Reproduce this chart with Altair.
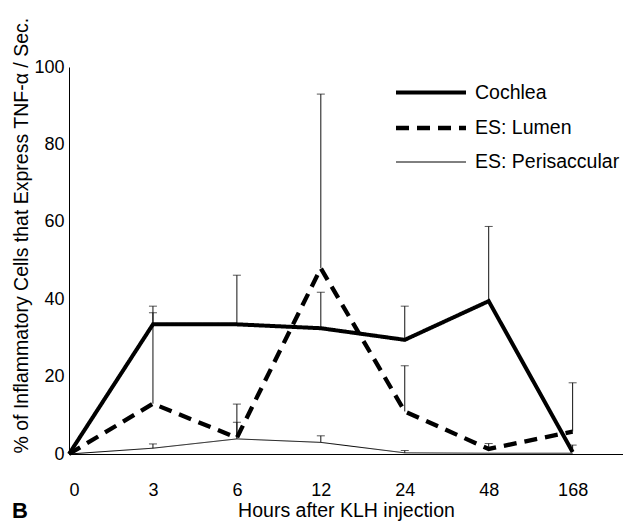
import altair as alt
import pandas as pd

hours = ["0", "3", "6", "12", "24", "48", "168"]
series = ["Cochlea", "ES: Lumen", "ES: Perisaccular"]

cochlea = [0, 33.5, 33.5, 32.5, 29.5, 39.5, 0.5]
cochlea_err = [None, 38.2, 46.2, 41.8, 38.2, 58.8, 2.3]
lumen = [0, 13.0, 4.2, 48.0, 11.0, 1.3, 5.8]
lumen_err = [None, 36.5, 12.9, 93.0, 22.8, 2.7, 18.4]
peri = [0, 1.5, 3.9, 3.0, 0.3, 0.2, 0.2]
peri_err = [None, 2.6, 8.2, 4.7, 0.9, None, None]

rows = []
for name, vals, errs in zip(series, [cochlea, lumen, peri], [cochlea_err, lumen_err, peri_err]):
    for i, (v, e) in enumerate(zip(vals, errs)):
        rows.append({"idx": i, "hour": hours[i], "series": name, "value": v, "err": e})
df = pd.DataFrame(rows)
err_df = df.dropna(subset=["err"])

FONT = "Liberation Sans"
label_expr = "[" + ",".join("'" + h + "'" for h in hours) + "][datum.value]"

x_enc = alt.X(
    "idx:Q",
    scale=alt.Scale(domain=[0, 6.6], nice=False, zero=False),
    axis=alt.Axis(
        values=list(range(len(hours))),
        labelExpr=label_expr,
        title="Hours after KLH injection",
        ticks=False,
        grid=False,
        labelPadding=27,
        labelFontSize=18,
        titleFontSize=19.5,
        titleFontWeight="normal",
        titlePadding=2,
        titleX=277,
    ),
)
y_enc = alt.Y(
    "value:Q",
    scale=alt.Scale(domain=[0, 100], nice=False),
    axis=alt.Axis(
        values=[0, 20, 40, 60, 80, 100],
        title="% of Inflammatory Cells that Express TNF-\u03b1 / Sec.",
        ticks=False,
        grid=False,
        labelPadding=5,
        labelFontSize=18,
        titleFontSize=19.5,
        titleFontWeight="normal",
        titleAngle=270,
        titleAlign="left",
        titleBaseline="middle",
        titleX=-48,
        titleY=386,
    ),
)

legend = alt.Legend(
    title=None,
    orient="none",
    legendX=342,
    legendY=6,
    symbolType="M-2,0H2",
    symbolSize=1225,
    symbolStrokeColor="black",
    labelFontSize=19.5,
    labelFont=FONT,
    labelOffset=24,
    rowPadding=6,
)

lines = alt.Chart(df).mark_line(color="black", strokeCap="butt").encode(
    x=x_enc,
    y=y_enc,
    detail="series:N",
    strokeDash=alt.StrokeDash(
        "series:N",
        scale=alt.Scale(domain=series, range=[[1, 0], [13, 8], [1, 0]]),
        legend=legend,
    ),
    strokeWidth=alt.StrokeWidth(
        "series:N",
        scale=alt.Scale(type="ordinal", domain=series, range=[4, 4.3, 1]),
        legend=legend,
    ),
)

bars = alt.Chart(err_df).mark_rule(color="#111", strokeWidth=1).encode(
    x="idx:Q", y="value:Q", y2="err:Q"
)
caps = alt.Chart(err_df).mark_tick(color="#111", thickness=1, size=8, orient="horizontal").encode(
    x="idx:Q", y="err:Q"
)

letter = alt.Chart(pd.DataFrame({"t": ["B"]})).mark_text(
    font=FONT, fontSize=22, fontWeight="bold", align="left", baseline="top", color="black"
).encode(text="t:N", x=alt.value(-57), y=alt.value(434))

chart = (
    alt.layer(bars, caps, lines, letter)
    .properties(
        width=554,
        height=387,
        autosize=alt.AutoSizeParams(type="none"),
        padding={"left": 69, "top": 67, "right": 0, "bottom": 69},
    )
    .configure_view(stroke=None)
    .configure_axis(
        domainColor="black",
        domainWidth=1,
        labelColor="black",
        titleColor="black",
        labelFont=FONT,
        titleFont=FONT,
    )
    .configure_legend(labelColor="black")
)

chart.save("out.html", embed_options={"renderer": "svg", "actions": False})
